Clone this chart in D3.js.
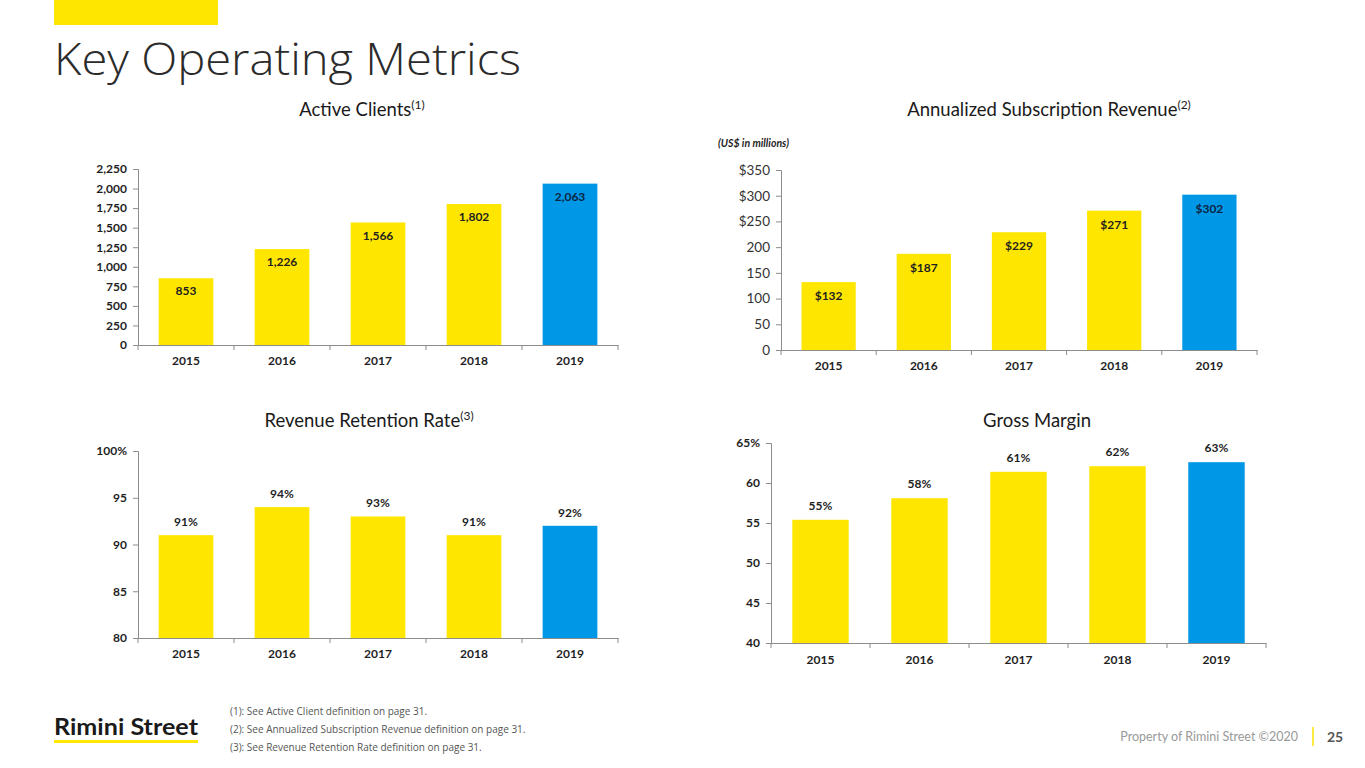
<!DOCTYPE html>
<html><head><meta charset="utf-8">
<script src="https://cdnjs.cloudflare.com/ajax/libs/d3/7.8.5/d3.min.js"></script>
<style>
html,body{margin:0;padding:0;background:#fff;}
svg{display:block;font-family:Lato,"Open Sans",sans-serif;}
</style></head><body>
<svg id="s" width="1365" height="768"></svg>
<script>
const years = ["2015","2016","2017","2018","2019"];
const activeClients = [853,1226,1566,1802,2063];
const activeClientLabels = ["853","1,226","1,566","1,802","2,063"];
const activeTicks = [0,250,500,750,1000,1250,1500,1750,2000,2250];
const activeTickLabels = ["0","250","500","750","1,000","1,250","1,500","1,750","2,000","2,250"];
const asr = [132,187,229,271,302];
const asrLabels = ["$132","$187","$229","$271","$302"];
const asrTicks = [0,50,100,150,200,250,300,350];
const asrTickLabels = ["0","50","100","150","200","$250","$300","$350"];
const retention = [91,94,93,91,92];
const retentionLabels = ["91%","94%","93%","91%","92%"];
const retTicks = [80,85,90,95,100];
const retTickLabels = ["80","85","90","95","100%"];
const grossMargin = [55.4,58.1,61.4,62.1,62.6];
const gmLabels = ["55%","58%","61%","62%","63%"];
const gmTicks = [40,45,50,55,60,65];
const gmTickLabels = ["40","45","50","55","60","65%"];
const footnotes = ["(1): See Active Client definition on page 31.",
  "(2): See Annualized Subscription Revenue definition on page 31.",
  "(3): See Revenue Retention Rate definition on page 31."];

const YELLOW = "#FFE600", BLUE = "#0097E6";
const svg = d3.select("#s");

// header
svg.append("rect").attr("x",54).attr("y",0).attr("width",164).attr("height",25).attr("fill",YELLOW);
svg.append("text").attr("x",54).attr("y",75).attr("font-size",44).attr("font-weight",300)
  .attr("fill","#2b2b2b").attr("font-family","'Open Sans',sans-serif").attr("textLength",467).attr("lengthAdjust","spacingAndGlyphs")
  .text("Key Operating Metrics");

function title(cx, y, txt, sup){
  const t = svg.append("text").attr("x",cx).attr("y",y).attr("text-anchor","middle")
    .attr("font-size",18.5).attr("fill","#1a1a1a");
  t.append("tspan").text(txt);
  if(sup) t.append("tspan").attr("font-size",12).attr("dy",-7).text(sup);
}

function chart(o){
  const x = d3.scaleBand().domain(years).range([o.x0,o.x1]).paddingInner(0.43).paddingOuter(0.215);
  const y = d3.scaleLinear().domain(o.domain).range([o.yb,o.yt]);
  const g = svg.append("g");
  g.selectAll("rect.bar").data(o.values).join("rect")
    .attr("x",(d,i)=>x(years[i])).attr("width",x.bandwidth())
    .attr("y",d=>y(d)).attr("height",d=>o.yb-y(d))
    .attr("fill",(d,i)=>i===4?BLUE:YELLOW);
  const ya = d3.axisLeft(y).tickValues(o.ticks).tickSize(5).tickPadding(6)
    .tickFormat((d,i)=>o.tickLabels[i]);
  const gy = g.append("g").attr("transform",`translate(${o.x0},0)`).call(ya);
  gy.select(".domain").attr("stroke","#8c8c8c");
  gy.selectAll(".tick line").attr("stroke","#8c8c8c");
  gy.selectAll(".tick text").attr("font-size",o.yfs||12).attr("font-weight",o.ybold?700:400)
    .attr("fill",o.ybold?"#1f1f1f":"#333").attr("font-family","Lato,sans-serif");
  const xa = d3.axisBottom(x).tickSize(0).tickPadding(o.xpad);
  const gx = g.append("g").attr("transform",`translate(0,${o.yb})`).call(xa);
  gx.select(".domain").attr("stroke","#8c8c8c");
  gx.selectAll(".tick text").attr("font-size",12).attr("font-weight",700).attr("fill","#1f1f1f").attr("font-family","Lato,sans-serif");
  const step = x.step();
  g.selectAll("line.xt").data(d3.range(6)).join("line")
    .attr("x1",i=>o.x0+i*step).attr("x2",i=>o.x0+i*step)
    .attr("y1",o.yb).attr("y2",o.yb+5).attr("stroke","#8c8c8c");
  g.selectAll("text.lbl").data(o.values).join("text")
    .attr("x",(d,i)=>x(years[i])+x.bandwidth()/2)
    .attr("y",d=>o.inside? y(d)+o.off : y(d)-o.off)
    .attr("text-anchor","middle").attr("font-size",12).attr("font-weight",700)
    .attr("fill",(d,i)=>i===4 && o.inside ? "#0b2545" : "#1f1f1f").attr("font-family","Lato,sans-serif")
    .text((d,i)=>o.labels[i]);
}

title(362,116,"Active Clients","(1)");
chart({x0:138,x1:618,yb:345,yt:169,domain:[0,2250],values:activeClients,labels:activeClientLabels,
  ticks:activeTicks,tickLabels:activeTickLabels,ybold:true,inside:true,off:17,xpad:11});

title(1049,116,"Annualized Subscription Revenue","(2)");
svg.append("text").attr("x",718).attr("y",147).attr("font-size",10.5).attr("font-weight",700).attr("font-style","italic")
  .attr("fill","#1f1f1f").text("(US$ in millions)");
chart({x0:781,x1:1257,yb:350,yt:170,domain:[0,350],values:asr,labels:asrLabels,
  ticks:asrTicks,tickLabels:asrTickLabels,ybold:false,yfs:13.5,inside:true,off:18,xpad:11});

title(369,427,"Revenue Retention Rate","(3)");
chart({x0:138,x1:618,yb:638,yt:451,domain:[80,100],values:retention,labels:retentionLabels,
  ticks:retTicks,tickLabels:retTickLabels,ybold:true,inside:false,off:9,xpad:11});

title(1037,427,"Gross Margin",null);
chart({x0:771,x1:1266,yb:643,yt:443,domain:[40,65],values:grossMargin,labels:gmLabels,
  ticks:gmTicks,tickLabels:gmTickLabels,ybold:true,inside:false,off:10,xpad:12});

// footer
svg.append("text").attr("x",54).attr("y",735).attr("font-size",23).attr("font-weight",700)
  .attr("fill","#1a1a1a").attr("textLength",144).attr("lengthAdjust","spacingAndGlyphs").text("Rimini Street");
svg.append("rect").attr("x",54).attr("y",740).attr("width",144).attr("height",3).attr("fill",YELLOW);
svg.selectAll("text.fn").data(footnotes).join("text")
  .attr("x",230).attr("y",(d,i)=>715+i*18).attr("font-size",10).attr("fill","#555")
  .attr("font-family","'Open Sans',sans-serif").text(d=>d);
svg.append("text").attr("x",1298).attr("y",741).attr("text-anchor","end").attr("font-size",12.5)
  .attr("fill","#999").text("Property of Rimini Street ©2020");
svg.append("line").attr("x1",1313).attr("x2",1313).attr("y1",727).attr("y2",746).attr("stroke",YELLOW).attr("stroke-width",1.5);
svg.append("text").attr("x",1327).attr("y",742).attr("font-size",14).attr("font-weight",700)
  .attr("fill","#555").text("25");
</script></body></html>
